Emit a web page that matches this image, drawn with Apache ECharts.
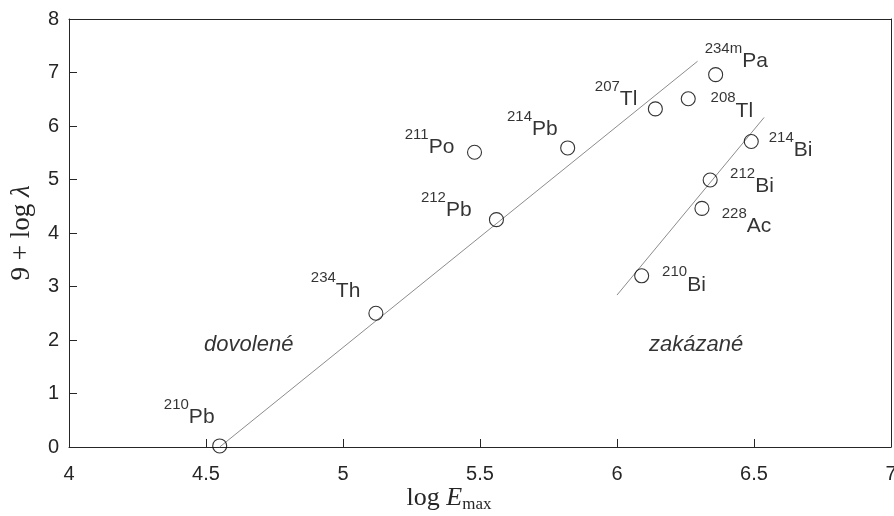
<!DOCTYPE html>
<html><head><meta charset="utf-8">
<script src="https://cdn.jsdelivr.net/npm/echarts@6/dist/echarts.min.js"></script>
<style>html,body{margin:0;padding:0;background:#fff}#c{width:894px;height:516px}</style>
</head><body><div id="c"></div>
<script>
// ---- data ----
const nuclideMass = ['210','234','212','211','214','207','234m','208','214','212','228','210'];
const nuclideElement = ['Pb','Th','Pb','Po','Pb','Tl','Pa','Tl','Bi','Bi','Ac','Bi'];
const logEmax = [4.55,5.12,5.56,5.48,5.82,6.14,6.36,6.26,6.49,6.34,6.31,6.09];
const ninePlusLogLambda = [0.02,2.50,4.25,5.51,5.59,6.32,6.96,6.51,5.71,4.99,4.46,3.20];
const line1X = [4.55, 6.294];
const line1Y = [0.0, 7.21];
const line2X = [6.0, 6.537];
const line2Y = [2.84, 6.16];
const regionNames = ['dovolené', 'zakázané'];
const regionX = [4.656, 6.289];
const regionY = [1.90, 1.90];
const xRange = [4, 7, 0.5];
const yRange = [0, 8, 1];

// ---- layout (label offsets in px, relative to the marker) ----
const labelOffsets = [[-30.5,-23.5],[-40.3,-17],[-50.2,-3.5],[-45,0.5],[-35.3,-13.5],[-39.3,-4.5],
  [20.6,-7.5],[43.6,17.5],[39.3,14.5],[41.8,12],[44.6,23],[42.3,14.5]];

const AX = '#262626';
const SANS = '"Liberation Sans", Arial, Helvetica, sans-serif';
const SERIF = '"Liberation Serif", "DejaVu Serif", serif';

const pts = logEmax.map((x, i) => ({
  value: [x, ninePlusLogLambda[i]],
  label: { offset: labelOffsets[i] }
}));

const tick = { show: true, inside: true, length: 8, lineStyle: { color: AX, width: 1 } };

const chart = echarts.init(document.getElementById('c'), null, {renderer: 'canvas'});
chart.setOption({
  animation: false,
  backgroundColor: '#fff',
  grid: { left: 69, right: 3, top: 19, bottom: 69, show: false, outerBoundsMode: 'none', containLabel: false },
  xAxis: [{
    type: 'value', min: xRange[0], max: xRange[1], interval: xRange[2], position: 'bottom',
    axisLine: { show: true, onZero: false, lineStyle: { color: AX, width: 1 } },
    axisTick: tick,
    splitLine: { show: false },
    axisLabel: { color: AX, fontSize: 20, fontFamily: SANS, margin: 17 },
    name: '{n|log }{i|E}{s|max}', nameLocation: 'middle', nameGap: 38, nameMoveOverlap: false,
    nameTextStyle: {
      padding: [0, 62, 0, 0],
      rich: {
        n: { fontFamily: SERIF, fontSize: 26, color: AX, lineHeight: 26 },
        i: { fontFamily: SERIF, fontSize: 26, fontStyle: 'italic', color: AX, lineHeight: 26 },
        s: { fontFamily: SERIF, fontSize: 17, color: AX, lineHeight: 17, padding: [14, 0, 0, 0] }
      }
    }
  }, {
    type: 'value', min: xRange[0], max: xRange[1], interval: xRange[2], position: 'top',
    axisLine: { show: true, onZero: false, lineStyle: { color: AX, width: 1 } },
    axisTick: { show: false }, axisLabel: { show: false }, splitLine: { show: false }
  }],
  yAxis: [{
    type: 'value', min: yRange[0], max: yRange[1], interval: yRange[2], position: 'left',
    axisLine: { show: true, onZero: false, lineStyle: { color: AX, width: 1 } },
    axisTick: tick,
    splitLine: { show: false },
    axisLabel: { color: AX, fontSize: 20, fontFamily: SANS, margin: 10 },
    name: '{n|9 + log }{i|λ}', nameLocation: 'middle', nameGap: 34, nameRotate: 90, nameMoveOverlap: false,
    nameTextStyle: {
      rich: {
        n: { fontFamily: SERIF, fontSize: 27, color: AX },
        i: { fontFamily: SERIF, fontSize: 27, fontStyle: 'italic', color: AX }
      }
    }
  }, {
    type: 'value', min: yRange[0], max: yRange[1], interval: yRange[2], position: 'right',
    axisLine: { show: true, onZero: false, lineStyle: { color: AX, width: 1 } },
    axisTick: { show: false }, axisLabel: { show: false }, splitLine: { show: false }
  }],
  series: [
    {
      type: 'line', data: line1X.map((x, i) => [x, line1Y[i]]), symbol: 'none',
      lineStyle: { color: '#8c8c8c', width: 1 }, silent: true, z: 1
    },
    {
      type: 'line', data: line2X.map((x, i) => [x, line2Y[i]]), symbol: 'none',
      lineStyle: { color: '#8c8c8c', width: 1 }, silent: true, z: 1
    },
    {
      type: 'scatter', data: pts, symbol: 'circle', symbolSize: 14, z: 3,
      itemStyle: { color: 'rgba(0,0,0,0)', borderColor: '#000', borderWidth: 1.1 },
      label: {
        show: true, position: 'inside', align: 'center', verticalAlign: 'bottom',
        formatter: p => '{s|' + nuclideMass[p.dataIndex] + '}{e|' + nuclideElement[p.dataIndex] + '}',
        rich: {
          s: { fontFamily: SANS, fontSize: 15, lineHeight: 15, padding: [0, 0, 15, 0], color: '#000' },
          e: { fontFamily: SANS, fontSize: 21, lineHeight: 21, padding: [10, 0, 0, 0], color: '#000' }
        }
      }
    },
    {
      type: 'scatter', data: regionX.map((x, i) => [x, regionY[i]]), symbolSize: 0, z: 3, silent: true,
      label: {
        show: true, position: 'inside', color: '#000', fontSize: 22, fontStyle: 'italic', fontFamily: SANS,
        formatter: p => regionNames[p.dataIndex]
      }
    }
  ]
});
</script></body></html>
